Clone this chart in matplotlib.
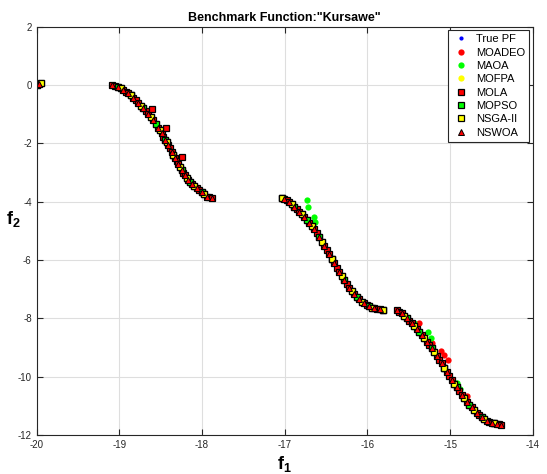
import numpy as np
import matplotlib.pyplot as plt

plt.rcParams['font.family'] = ['Liberation Sans', 'DejaVu Sans']
plt.rcParams['mathtext.fontset'] = 'custom'
plt.rcParams['mathtext.bf'] = 'Liberation Sans:bold'
plt.rcParams['mathtext.rm'] = 'Liberation Sans'
plt.rcParams['axes.unicode_minus'] = False

# Pareto front points (f1, f2), four pieces
pf_f1 = [-20.00, -19.97, -19.95,
         # piece 2
         -19.085, -19.049, -19.013, -18.980, -18.952, -18.922, -18.892, -18.862,
         -18.832, -18.802, -18.771, -18.741, -18.711, -18.681, -18.650, -18.620,
         -18.590, -18.560, -18.529, -18.509, -18.489, -18.469, -18.449, -18.429,
         -18.408, -18.388, -18.368, -18.348, -18.328, -18.308, -18.287, -18.267,
         -18.247, -18.227, -18.207, -18.187, -18.166, -18.146, -18.126, -18.098,
         -18.066, -18.037, -18.005, -17.977, -17.945, -17.917, -17.884,
         # piece 3
         -17.038, -17.008, -16.977, -16.947, -16.917, -16.887, -16.856, -16.826,
         -16.796, -16.766, -16.736, -16.705, -16.675, -16.645, -16.615, -16.585,
         -16.554, -16.524, -16.494, -16.464, -16.433, -16.403, -16.373, -16.343,
         -16.312, -16.282, -16.252, -16.222, -16.191, -16.161, -16.131, -16.101,
         -16.071, -16.040, -16.010, -15.980, -15.950, -15.920, -15.889, -15.850,
         -15.809,
         # piece 4
         -15.639, -15.613, -15.587, -15.556, -15.526, -15.496, -15.466, -15.436,
         -15.405, -15.375, -15.345, -15.315, -15.285, -15.255, -15.224, -15.194,
         -15.164, -15.134, -15.103, -15.073, -15.043, -15.013, -14.982, -14.952,
         -14.922, -14.892, -14.861, -14.831, -14.801, -14.771, -14.740, -14.710,
         -14.680, -14.650, -14.619, -14.589, -14.559, -14.529, -14.499, -14.469,
         -14.438, -14.414, -14.390]
pf_f2 = [0.00, 0.02, 0.05,
         # piece 2
         0.000, -0.023, -0.056, -0.113, -0.170, -0.227, -0.284, -0.353,
         -0.433, -0.525, -0.627, -0.707, -0.798, -0.901, -1.004, -1.095,
         -1.198, -1.324, -1.461, -1.553, -1.655, -1.770, -1.884, -1.964,
         -2.055, -2.170, -2.284, -2.398, -2.513, -2.616, -2.718, -2.821,
         -2.913, -3.004, -3.084, -3.176, -3.256, -3.336, -3.404, -3.473,
         -3.541, -3.610, -3.678, -3.747, -3.827, -3.850, -3.861,
         # piece 3
         -3.861, -3.895, -3.941, -4.010, -4.090, -4.170, -4.250, -4.340,
         -4.432, -4.530, -4.627, -4.724, -4.821, -4.950, -5.084, -5.227,
         -5.370, -5.512, -5.655, -5.810, -5.964, -6.113, -6.261, -6.398,
         -6.535, -6.684, -6.832, -6.947, -7.061, -7.158, -7.255, -7.341,
         -7.427, -7.484, -7.541, -7.587, -7.632, -7.655, -7.678, -7.695,
         -7.712,
         # piece 4
         -7.712, -7.769, -7.826, -7.912, -7.998, -8.084, -8.169, -8.272,
         -8.375, -8.472, -8.569, -8.684, -8.798, -8.912, -9.026, -9.158,
         -9.289, -9.415, -9.540, -9.683, -9.826, -9.969, -10.112, -10.238,
         -10.363, -10.495, -10.626, -10.741, -10.855, -10.952, -11.049, -11.141,
         -11.232, -11.312, -11.391, -11.449, -11.506, -11.540, -11.574, -11.597,
         -11.620, -11.632, -11.643]

# points off the front
moadeo_out_f1 = [-15.373, -15.224, -15.115, -15.075, -15.027, -14.801]
moadeo_out_f2 = [-8.169, -8.855, -9.118, -9.255, -9.426, -10.649]
maoa_out_f1 = [-16.736, -16.716, -16.643, -16.635, -15.437, -15.272, -15.232, -14.922, -14.882]
maoa_out_f2 = [-3.941, -4.170, -4.535, -4.707, -8.146, -8.455, -8.684, -10.20, -10.43]
mola_out_f1 = [-18.610, -18.440, -18.247]
mola_out_f2 = [-0.833, -1.461, -2.456]

pf_f1 = np.array(pf_f1)
pf_f2 = np.array(pf_f2)

fig = plt.figure(figsize=(5.47, 4.74), dpi=100)
ax = fig.add_axes([0.067, 0.082, 0.907, 0.862])

ax.plot(pf_f1, pf_f2, '.', color='blue', ms=4, label='True PF')
ax.plot(np.r_[pf_f1, moadeo_out_f1], np.r_[pf_f2, moadeo_out_f2], 'o',
        color='red', mec='none', ms=4.5, label='MOADEO')
ax.plot(np.r_[pf_f1, maoa_out_f1], np.r_[pf_f2, maoa_out_f2], 'o',
        color=(0, 1, 0), mec='none', ms=4.5, label='MAOA')
ax.plot(pf_f1, pf_f2, 'o', color='yellow', mec='none', ms=4.5, label='MOFPA')
ax.plot(np.r_[pf_f1, mola_out_f1], np.r_[pf_f2, mola_out_f2], 's',
        mfc='red', mec='black', mew=0.9, ms=5, label='MOLA')
ax.plot(pf_f1[::5], pf_f2[::5], 's', mfc=(0, 1, 0), mec='black', mew=0.9,
        ms=5, label='MOPSO')
ax.plot(pf_f1[2::4], pf_f2[2::4], 's', mfc='yellow', mec='black', mew=0.9,
        ms=5, label='NSGA-II')
ax.plot(pf_f1[1::2], pf_f2[1::2], '^', mfc='red', mec='black', mew=0.7,
        ms=4.5, label='NSWOA')

ax.set_xlim(-20, -14)
ax.set_ylim(-12, 2)
ax.set_xticks(np.arange(-20, -13, 1))
ax.set_yticks(np.arange(-12, 3, 2))
ax.grid(True, color='#dedede', lw=0.8)
ax.set_axisbelow(True)
ax.tick_params(direction='in', top=True, right=True, labelsize=7,
               length=4, colors='#262626')
for s in ax.spines.values():
    s.set_color('#262626')
    s.set_linewidth(0.8)

ax.set_title('Benchmark Function:"Kursawe"', fontsize=9, fontweight='bold', pad=4)
ax.set_xlabel(r'$\mathbf{f_1}$', fontsize=13, va='top')
ax.xaxis.set_label_coords(0.5, -0.045)
ax.set_ylabel(r'$\mathbf{f_2}$', fontsize=13, rotation=0, ha='center', va='center')
ax.yaxis.set_label_coords(-0.046, 0.53)

leg = ax.legend(loc='upper right', fontsize=8, labelspacing=0.3,
                handletextpad=0.6, borderaxespad=0.3, handlelength=1.5,
                fancybox=False, framealpha=1, edgecolor='#262626')
leg.get_frame().set_linewidth(0.8)

fig.savefig('out.png', dpi=100)
